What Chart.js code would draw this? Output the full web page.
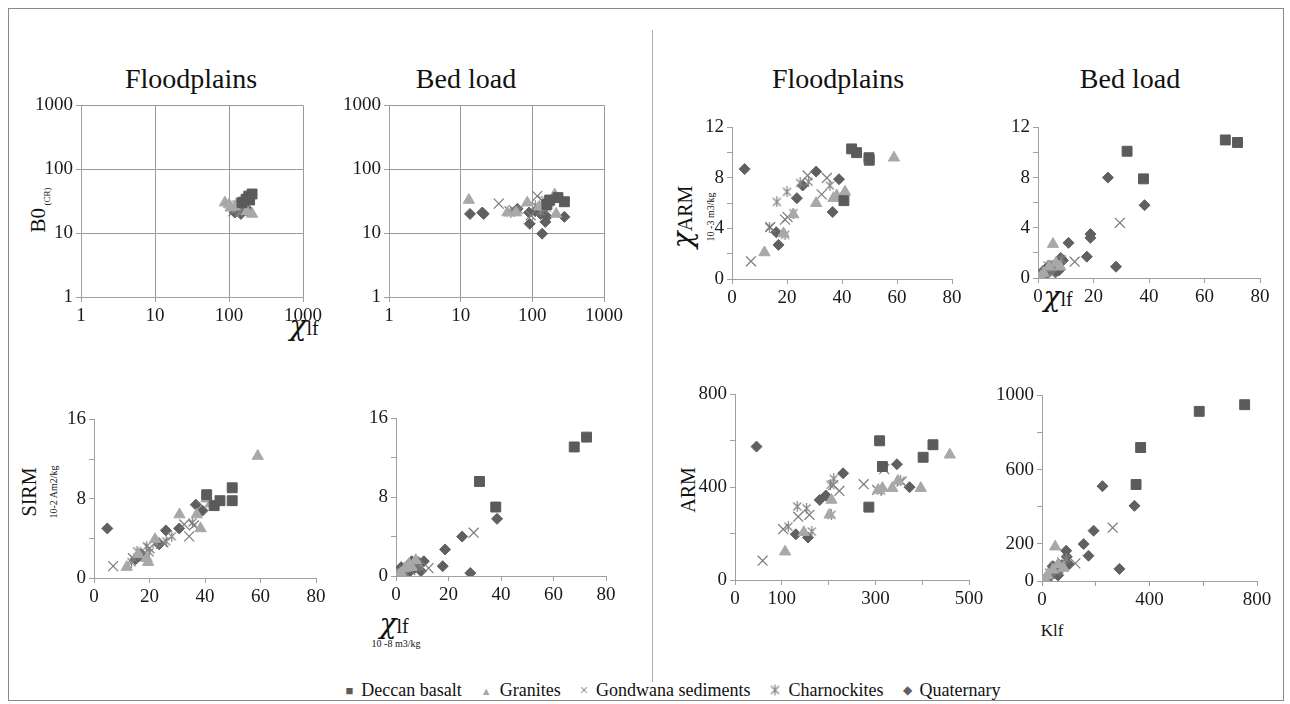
<!DOCTYPE html>
<html>
<head>
<meta charset="utf-8">
<script src="https://cdn.jsdelivr.net/npm/chart.js@4.4.1/dist/chart.umd.min.js"></script>
<style>
  body { margin: 0; background: #fff; width: 1290px; height: 704px; position: relative; overflow: hidden;
         font-family: "Liberation Serif", serif; color: #111; }
  canvas.plot { position: absolute; }
  .t { position: absolute; font-size: 28px; transform: translate(-50%, -50%); white-space: nowrap; }
  .lab { position: absolute; transform: translate(-50%, -50%); white-space: nowrap; line-height: 1; }
  .rot { position: absolute; transform: translate(-50%, -50%) rotate(-90deg); white-space: nowrap; text-align: center; line-height: 1.05; }
  .chi { font-family: "DejaVu Serif", "Liberation Serif", serif; font-style: italic; }
  #frame { position: absolute; left: 8px; top: 8px; width: 1274px; height: 691px; border: 1px solid #8a8a8a; }
  #divider { position: absolute; left: 652px; top: 30px; width: 1px; height: 652px; background: #b0b0b0; }
  #legend { position: absolute; left: 673px; top: 690px; transform: translate(-50%, -50%); white-space: nowrap;
            font-size: 18px; display: flex; align-items: center; gap: 8px; }
  #legend .m { display: inline-block; margin-left: 11px; }
  #legend .m:first-child { margin-left: 0; }
  #legStar canvas { display: block; }
</style>
</head>
<body>
<div id="frame"></div>
<div id="divider"></div>

<div class="t" style="left:191px;top:79px">Floodplains</div>
<div class="t" style="left:466px;top:79px">Bed load</div>
<div class="t" style="left:838px;top:79px">Floodplains</div>
<div class="t" style="left:1130px;top:79px">Bed load</div>

<div class="rot" style="left:40px;top:210px;font-size:21px">B0<span style="font-size:9px;vertical-align:sub"> (CR)</span></div>
<div class="lab" style="left:304px;top:326px"><span class="chi" style="font-size:28px">χ</span><span style="font-size:20px">lf</span></div>

<div class="rot" style="left:40px;top:492px;font-size:20px">SIRM<br><span style="font-size:10px">10-2 Am2/kg</span></div>
<div class="lab" style="left:394px;top:624px"><span class="chi" style="font-size:28px">χ</span><span style="font-size:20px">lf</span></div>
<div class="lab" style="left:396px;top:644px;font-size:10px">10 -8 m3/kg</div>

<div class="rot" style="left:693px;top:217px;font-size:20px"><span class="chi" style="font-size:28px">χ</span>ARM<br><span style="font-size:10px">10 -3 m3/kg</span></div>
<div class="lab" style="left:1058px;top:297px"><span class="chi" style="font-size:28px">χ</span><span style="font-size:20px">lf</span></div>

<div class="rot" style="left:688px;top:490px;font-size:20px">ARM</div>
<div class="lab" style="left:1052px;top:630px;font-size:17px">Klf</div>

<div id="legend">
  <span class="m" style="color:#5b5b5b;font-size:13px">■</span><span>Deccan basalt</span>
  <span class="m" style="color:#a8a8a8;font-size:11px">▲</span><span>Granites</span>
  <span class="m" style="color:#7a7a7a;font-size:15px">×</span><span>Gondwana sediments</span>
  <span class="m" id="legStar"></span><span>Charnockites</span>
  <span class="m" style="color:#5f5f5f;font-size:12px">◆</span><span>Quaternary</span>
</div>

<script>
// ---- data ----
// top row, log-log : B0 (CR) vs chi lf
const fpB0_basalt = [[150,30],[170,34],[185,38],[205,41],[190,33]];
const fpB0_granites = [[88,30],[100,28],[105,25],[205,20],[175,22],[120,26]];
const fpB0_gondwana = [[130,24],[145,27],[160,23],[115,22]];
const fpB0_charno = [[125,28],[140,31],[155,29],[135,21],[165,26]];
const fpB0_quat = [[120,21],[135,25],[150,27],[165,30],[175,24],[145,20],[180,22]];

const blB0_basalt = [[228,36],[280,31],[175,33],[160,28]];
const blB0_granites = [[13,33],[45,21],[59,21],[85,30],[205,40],[215,20],[125,26],[170,30]];
const blB0_gondwana = [[34,29],[48,22],[117,38],[95,19],[140,32],[55,23]];
const blB0_charno = [[50,21],[65,23],[110,27],[150,33],[130,22],[160,25]];
const blB0_quat = [[13.5,20],[20,21],[21,20],[62,24],[90,21],[92,14],[137,9.8],[152,15],[280,18],[130,20],[145,24],[160,18],[110,22],[150,28]];

// bottom-left : SIRM vs chi lf
const fpSirm_basalt = [[40.6,8.4],[43.3,7.3],[45.4,7.8],[49.8,9.1],[49.8,7.8]];
const fpSirm_granites = [[11.8,1.1],[19,2],[19.5,1.6],[22,3.9],[30.8,6.4],[38.4,5],[37,6.4],[40.5,8],[42,7.5],[59,12.3],[16,2.4]];
const fpSirm_gondwana = [[6.9,1.2],[34.3,4.2],[32.5,5.4],[20,3],[14,2],[25,3.6],[36,5.3]];
const fpSirm_charno = [[13.5,1.6],[15.5,2.7],[17,2.3],[20,2.6],[22.5,3.5],[26,3.7],[28,4.2],[35.5,5.6],[19,3.2]];
const fpSirm_quat = [[4.8,5],[16.2,2.2],[23.5,3.4],[25.9,4.8],[30.7,5],[36.7,7.4],[39.1,6.8],[17,2.4],[15,1.9]];

const blSirm_basalt = [[31.8,9.6],[38,7],[67.9,13.1],[72.6,14.1]];
const blSirm_granites = [[2,0.3],[3.5,0.8],[5,1.2],[6,0.9],[1,0.1],[7.5,1.6]];
const blSirm_gondwana = [[29.6,4.4],[12.4,0.8],[3,0.5],[5.5,0.6],[8,1.1]];
const blSirm_charno = [[2.5,0.4],[4,0.9],[6.5,1.3],[9,1.0],[1.5,0.2]];
const blSirm_quat = [[38.5,5.8],[25.2,4],[18.7,2.7],[17.8,1],[28.3,0.3],[10.6,1.5],[9.5,0.5],[3,0.7],[4.5,0.3],[6,1.5],[7,0.8],[1,0.2],[2,0.9],[5,0.4],[8.5,1.4]];

// top-right : chi ARM vs chi lf
const fpXarm_basalt = [[43.5,10.3],[45.3,10],[49.8,9.6],[49.9,9.4],[40.7,6.2]];
const fpXarm_granites = [[11.8,2.1],[18.7,3.6],[22.3,5.1],[30.6,6],[36.9,6.4],[38.1,6.6],[39.9,6.4],[41.1,6.9],[58.9,9.6]];
const fpXarm_gondwana = [[6.9,1.4],[13.9,4.1],[20.2,4.9],[19.3,4.7],[32.6,6.7],[27.5,8.2],[34.5,8]];
const fpXarm_charno = [[16.3,6.1],[20,6.9],[13.6,4.1],[19.3,3.5],[22.3,5.2],[27.8,7.7],[35.6,7.4],[24.8,7.6]];
const fpXarm_quat = [[4.6,8.7],[16.1,3.7],[16.9,2.7],[25.7,7.4],[23.6,6.4],[30.6,8.5],[38.9,7.9],[36.6,5.3]];

const blXarm_basalt = [[32.1,10.1],[38,7.9],[67.5,11],[71.9,10.8]];
const blXarm_granites = [[5.4,2.7],[2,0.4],[4,0.9],[6.5,1.2],[8,0.9],[1,0.1]];
const blXarm_gondwana = [[29.5,4.4],[13.2,1.3],[3,0.5],[5,0.3],[7,1]];
const blXarm_charno = [[2.5,0.3],[4.5,0.7],[6,1.1],[8.5,1.5],[3.5,1]];
const blXarm_quat = [[25.2,8],[38.4,5.8],[18.9,3.5],[18.9,3.2],[17.6,1.7],[28.1,0.9],[11,2.8],[9,1.4],[8.2,1.6],[2,0.6],[3,0.3],[5,0.8],[6.5,0.5],[4,1],[7.5,0.6]];

// bottom-right : ARM vs Klf
const fpArm_basalt = [[309,600],[315,489],[286,314],[402,529],[423,583]];
const fpArm_granites = [[107,122],[147,206],[206,345],[202,281],[306,388],[315,396],[336,396],[348,427],[397,396],[459,540]];
const fpArm_gondwana = [[59,83],[103,219],[135,273],[159,281],[210,409],[275,413],[304,388],[319,478],[356,424],[223,384]];
const fpArm_charno = [[114,230],[133,317],[153,309],[164,209],[206,281],[211,436],[204,410],[312,386],[354,427]];
const fpArm_quat = [[46,575],[181,345],[194,364],[130,197],[156,183],[231,460],[346,499],[373,400]];

const blArm_basalt = [[367,719],[350,520],[585,914],[754,950]];
const blArm_granites = [[49,185],[20,30],[40,60],[60,90],[80,70],[10,10]];
const blArm_gondwana = [[263,287],[124,95],[30,40],[55,50],[75,100]];
const blArm_charno = [[25,20],[45,80],[65,60],[90,120],[35,50]];
const blArm_quat = [[225,511],[344,405],[192,271],[155,199],[173,136],[288,65],[90,163],[92,131],[74,86],[50,40],[30,25],[70,70],[60,30],[100,90],[40,80]];

const seriesNames = ["Deccan basalt", "Granites", "Gondwana sediments", "Charnockites", "Quaternary"];
const logTicks = [1, 10, 100, 1000];

// ---- styling ----
const FONT = "Liberation Serif";
const AX = "#a0a0a0";
const GRID = "#9a9a9a";
const YW = 60, XH = 34, PT = 14, PR = 26;

Chart.defaults.font.family = FONT;

function starMarker(color) {
  const c = document.createElement("canvas");
  c.width = 11; c.height = 11;
  const g = c.getContext("2d");
  g.strokeStyle = color;
  g.lineWidth = 1.2;
  g.beginPath();
  g.moveTo(1.5, 1.5); g.lineTo(9.5, 9.5);
  g.moveTo(9.5, 1.5); g.lineTo(1.5, 9.5);
  g.moveTo(5.5, 0); g.lineTo(5.5, 11);
  g.stroke();
  return c;
}
const starImg = starMarker("#858585");
document.getElementById("legStar").appendChild(starMarker("#858585"));

const styles = [
  { pointStyle: "rect", pointRadius: 7, backgroundColor: "#5b5b5b", borderColor: "#5b5b5b", borderWidth: 1 },
  { pointStyle: "triangle", pointRadius: 6.5, backgroundColor: "#a8a8a8", borderColor: "#a8a8a8", borderWidth: 1 },
  { pointStyle: "crossRot", pointRadius: 7, backgroundColor: "#7a7a7a", borderColor: "#7a7a7a", borderWidth: 1.2 },
  { pointStyle: starImg, pointRadius: 6, backgroundColor: "#858585", borderColor: "#858585", borderWidth: 1 },
  { pointStyle: "rectRot", pointRadius: 5.5, backgroundColor: "#606060", borderColor: "#606060", borderWidth: 1 }
];

function datasets(sets) {
  return sets.map((pts, k) => Object.assign({
    label: seriesNames[k],
    data: pts.map(p => ({ x: p[0], y: p[1] }))
  }, styles[k]));
}

function axis(pos, cfg) {
  const a = {
    position: pos,
    min: cfg.min,
    max: cfg.max,
    border: { display: true, color: AX, width: 1 },
    grid: {
      display: true,
      drawOnChartArea: !!cfg.log,
      color: GRID,
      tickColor: AX,
      tickLength: 5
    },
    ticks: {
      font: { family: FONT, size: 19 },
      color: "#1a1a1a",
      autoSkip: false,
      maxRotation: 0,
      padding: 3
    },
    afterFit(s) {
      if (pos === "left") s.width = YW; else s.height = XH;
    }
  };
  if (cfg.log) {
    a.type = "logarithmic";
    a.afterBuildTicks = s => { s.ticks = logTicks.map(v => ({ value: v })); };
    a.ticks.callback = v => String(v);
  } else {
    a.type = "linear";
    a.ticks.stepSize = cfg.step;
    a.ticks.callback = v => (cfg.show(v) ? String(v) : "");
  }
  return a;
}

function makePanel(p) {
  const [l, t, r, b] = p.box;
  const w = r - l + YW + PR, h = b - t + PT + XH;
  const c = document.createElement("canvas");
  c.className = "plot";
  c.width = w; c.height = h;
  c.style.left = (l - YW) + "px";
  c.style.top = (t - PT) + "px";
  c.style.width = w + "px";
  c.style.height = h + "px";
  document.body.appendChild(c);
  new Chart(c, {
    type: "scatter",
    data: { datasets: datasets(p.sets) },
    options: {
      responsive: false,
      animation: false,
      devicePixelRatio: 1,
      layout: { padding: { left: 0, top: PT, right: PR, bottom: 0 } },
      plugins: { legend: { display: false }, tooltip: { enabled: false } },
      scales: { x: axis("bottom", p.x), y: axis("left", p.y) }
    }
  });
}

const logAx = { log: true, min: 1, max: 1000 };
const every8 = v => v % 8 === 0;
const every4 = v => v % 4 === 0;
const all = () => true;

const panels = [
  { box: [81, 105, 303, 297], x: logAx, y: logAx,
    sets: [fpB0_basalt, fpB0_granites, fpB0_gondwana, fpB0_charno, fpB0_quat] },
  { box: [389, 105, 604, 297], x: logAx, y: logAx,
    sets: [blB0_basalt, blB0_granites, blB0_gondwana, blB0_charno, blB0_quat] },
  { box: [94, 419, 316, 578], x: { min: 0, max: 80, step: 20, show: all }, y: { min: 0, max: 16, step: 4, show: every8 },
    sets: [fpSirm_basalt, fpSirm_granites, fpSirm_gondwana, fpSirm_charno, fpSirm_quat] },
  { box: [396, 418, 606, 576], x: { min: 0, max: 80, step: 20, show: all }, y: { min: 0, max: 16, step: 4, show: every8 },
    sets: [blSirm_basalt, blSirm_granites, blSirm_gondwana, blSirm_charno, blSirm_quat] },
  { box: [732, 127, 952, 279], x: { min: 0, max: 80, step: 20, show: all }, y: { min: 0, max: 12, step: 2, show: every4 },
    sets: [fpXarm_basalt, fpXarm_granites, fpXarm_gondwana, fpXarm_charno, fpXarm_quat] },
  { box: [1038, 127, 1260, 278], x: { min: 0, max: 80, step: 20, show: all }, y: { min: 0, max: 12, step: 2, show: every4 },
    sets: [blXarm_basalt, blXarm_granites, blXarm_gondwana, blXarm_charno, blXarm_quat] },
  { box: [735, 394, 969, 580], x: { min: 0, max: 500, step: 100, show: v => [0, 100, 300, 500].includes(v) },
    y: { min: 0, max: 800, step: 200, show: v => v % 400 === 0 },
    sets: [fpArm_basalt, fpArm_granites, fpArm_gondwana, fpArm_charno, fpArm_quat] },
  { box: [1042, 395, 1257, 581], x: { min: 0, max: 800, step: 200, show: v => v % 400 === 0 },
    y: { min: 0, max: 1000, step: 200, show: v => [0, 200, 600, 1000].includes(v) },
    sets: [blArm_basalt, blArm_granites, blArm_gondwana, blArm_charno, blArm_quat] }
];

function build() { panels.forEach(makePanel); }
if (document.fonts && document.fonts.load) {
  document.fonts.load("19px 'Liberation Serif'").then(build, build);
} else {
  build();
}
</script>
</body>
</html>
